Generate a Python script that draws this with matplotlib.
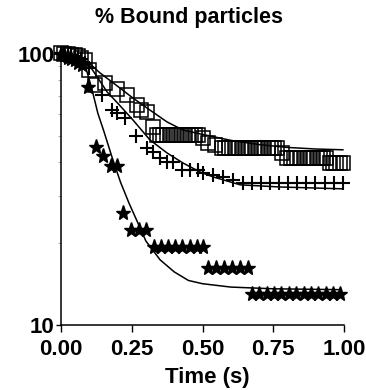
import matplotlib
matplotlib.use('Agg')
import matplotlib.pyplot as plt
from matplotlib.ticker import FixedLocator, NullFormatter

plt.rcParams['font.family'] = ['Liberation Sans', 'DejaVu Sans']
plt.rcParams['font.weight'] = 'bold'

# open squares
sq_t = [0.000, 0.012, 0.024, 0.036, 0.048, 0.060, 0.072, 0.084, 0.098, 0.120,
        0.155, 0.198, 0.233, 0.269, 0.283, 0.304, 0.325,
        0.340, 0.351, 0.362, 0.373, 0.384, 0.395, 0.406, 0.417, 0.428, 0.439,
        0.450, 0.461, 0.472, 0.483,
        0.502, 0.520, 0.544,
        0.569, 0.580, 0.592, 0.603, 0.615, 0.626, 0.638, 0.649, 0.661, 0.672,
        0.684, 0.695, 0.707, 0.718, 0.730, 0.741, 0.752, 0.763,
        0.781,
        0.800, 0.811, 0.823, 0.834, 0.846, 0.857, 0.869, 0.880, 0.892, 0.903,
        0.915, 0.926, 0.938,
        0.950, 0.961, 0.973, 0.984, 0.996]
sq_v = [101, 100, 100, 99, 99, 98, 97, 95, 87, 77,
        78, 74, 70.6, 65, 62, 61, 54,
        50.3, 50.3, 50.3, 50.3, 50.3, 50.3, 50.3, 50.3, 50.3, 50.3,
        50.3, 50.3, 50.3, 50.3,
        49, 47, 46.2,
        45, 45, 45, 45, 45, 45, 45, 45, 45, 45,
        45, 45, 45, 45, 45, 45, 45, 45,
        43.1,
        41.3, 41.3, 41.3, 41.3, 41.3, 41.3, 41.3, 41.3, 41.3, 41.3,
        41.3, 41.3, 41.3,
        39.6, 39.6, 39.6, 39.6, 39.6]

# crosses
cr_t = [0.000, 0.012, 0.024, 0.036, 0.048, 0.060, 0.072, 0.085, 0.100,
        0.145, 0.180, 0.198, 0.226, 0.265, 0.304, 0.325, 0.350, 0.375, 0.396,
        0.428, 0.456, 0.484, 0.502, 0.537, 0.572, 0.608,
        0.643, 0.675, 0.707, 0.739, 0.771, 0.803, 0.835, 0.867, 0.899, 0.931,
        0.963, 0.995]
cr_v = [100, 100, 99, 99, 98, 97, 96, 93, 89,
        70.6, 62.1, 60.5, 58.1, 49.8, 45.0, 43.5, 41.3, 39.9, 39.9,
        37.3, 37.3, 37.3, 36.4, 35.8, 35.2, 34.3,
        33.4, 33.4, 33.4, 33.4, 33.4, 33.4, 33.4, 33.4, 33.4, 33.4,
        33.4, 33.4]

# stars
st_t = [0.000, 0.012, 0.024, 0.036, 0.048, 0.060, 0.075, 0.095, 0.124,
        0.148, 0.177, 0.198, 0.219, 0.247, 0.275, 0.302,
        0.329, 0.354, 0.379, 0.404, 0.429, 0.454, 0.479, 0.502,
        0.519, 0.547, 0.575, 0.603, 0.631, 0.659,
        0.675, 0.701, 0.727, 0.753, 0.779, 0.805, 0.831, 0.857, 0.883, 0.909,
        0.935, 0.961, 0.986]
st_v = [100, 99, 97, 96, 95, 93, 91, 75.6, 45.5,
        42, 38.7, 38.7, 26, 22.5, 22.5, 22.5,
        19.4, 19.4, 19.4, 19.4, 19.4, 19.4, 19.4, 19.4,
        16.2, 16.2, 16.2, 16.2, 16.2, 16.2,
        13.0, 13.0, 13.0, 13.0, 13.0, 13.0, 13.0, 13.0, 13.0, 13.0,
        13.0, 13.0, 13.0]

# fitted curves
fit_sq_t = [0.0, 0.05, 0.095, 0.138, 0.20, 0.254, 0.314, 0.375, 0.431,
            0.50, 0.60, 0.70, 0.80, 0.90, 0.996]
fit_sq_v = [100, 98.5, 93.4, 85.1, 76.0, 68.8, 62.1, 56.1, 52.4,
            50.5, 48.0, 46.3, 45.2, 44.6, 44.3]

fit_cr_t = [0.0, 0.05, 0.095, 0.13, 0.163, 0.20, 0.254, 0.314, 0.375,
            0.431, 0.491, 0.537, 0.633, 0.774, 0.996]
fit_cr_v = [100, 98.5, 92.6, 81.6, 72.4, 65.9, 57.1, 48.2, 43.1,
            39.6, 36.7, 35.2, 32.9, 32.3, 31.8]

fit_st_t = [0.0, 0.03, 0.06, 0.075, 0.09, 0.11, 0.13, 0.15, 0.18, 0.21,
            0.24, 0.27, 0.30, 0.35, 0.40, 0.45, 0.50, 0.60, 0.75, 0.986]
fit_st_v = [100, 100, 98, 95.8, 87.3, 73.6, 60.5, 52.4, 41.7, 33.7,
            28.2, 24.0, 20.4, 17.4, 15.7, 14.6, 14.2, 13.8, 13.6, 13.5]

fig = plt.figure(figsize=(3.66, 3.90), dpi=100)
ax = fig.add_axes([0.1667, 0.1667, 0.7733, 0.6949])

ax.plot(fit_sq_t, fit_sq_v, color='black', lw=1.1)
ax.plot(fit_cr_t, fit_cr_v, color='black', lw=1.1)
ax.plot(fit_st_t, fit_st_v, color='black', lw=1.1)

ax.plot(sq_t, sq_v, ls='none', marker='s', ms=9.5, mfc='none', mec='black',
        mew=1.1, clip_on=False)
ax.plot(cr_t, cr_v, ls='none', marker='+', ms=10.5, mec='black', mew=1.5,
        clip_on=False)
ax.plot(st_t, st_v, ls='none', marker='*', ms=11, mfc='black', mec='black',
        clip_on=False)

ax.set_yscale('log')
ax.set_ylim(10, 100)
ax.set_xlim(0, 1.0)
ax.set_xticks([0, 0.25, 0.5, 0.75, 1.0])
ax.set_xticklabels(['0.00', '0.25', '0.50', '0.75', '1.00'])
ax.set_yticks([10, 100])
ax.set_yticklabels(['10', '100'])
ax.yaxis.set_minor_locator(FixedLocator([20, 30, 40, 50, 60, 70, 80, 90]))
ax.yaxis.set_minor_formatter(NullFormatter())

ax.spines['top'].set_visible(False)
ax.spines['right'].set_visible(False)
ax.spines['left'].set_linewidth(1.1)
ax.spines['bottom'].set_linewidth(1.1)
ax.tick_params(axis='both', which='major', direction='out', length=5,
               width=1.0, labelsize=16, pad=1)
ax.tick_params(axis='y', which='major', length=3.5, pad=1)
ax.tick_params(axis='x', which='major', pad=5)
ax.tick_params(axis='y', which='minor', direction='out', length=2.5, width=0.5,
               color='#888888')
for lab in ax.get_xticklabels() + ax.get_yticklabels():
    lab.set_fontweight('bold')

ax.set_xlabel('Time (s)', fontsize=16, fontweight='bold', labelpad=5)
ax.xaxis.label.set_x(0.517)
fig.text(0.516, 0.955, '% Bound particles', fontsize=15.5, fontweight='bold',
         ha='center', va='center')

fig.savefig('out.png', dpi=100)
